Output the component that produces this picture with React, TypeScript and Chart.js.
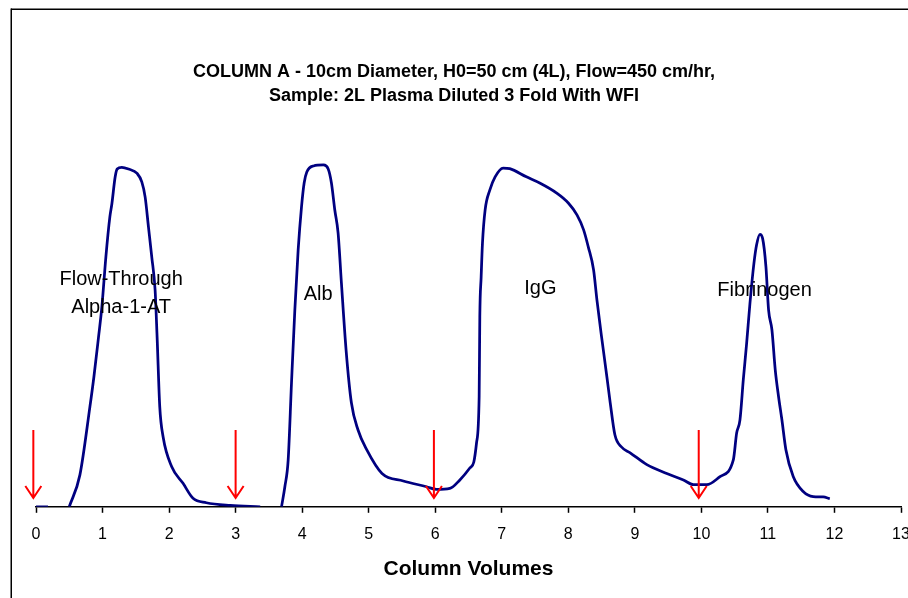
import React, { useEffect, useRef } from "react";
import { Chart, registerables } from "chart.js";

Chart.register(...registerables);

const FONT = "'Liberation Sans', Arial, Helvetica, sans-serif";

const TITLE_LINES = [
  "COLUMN A - 10cm Diameter, H0=50 cm (4L), Flow=450 cm/hr,",
  "Sample: 2L Plasma Diluted 3 Fold With WFI",
];
const X_TITLE = "Column Volumes";
const X_TICKS = [0, 1, 2, 3, 4, 5, 6, 7, 8, 9, 10, 11, 12, 13];

// column volumes
const CV = [
  0, 0.18, 0.3, 0.5, 0.66, 0.81, 0.87, 0.94, 0.99, 1.05, 1.11, 1.14, 1.19, 1.22, 1.29, 1.39,
  1.52, 1.59, 1.64, 1.69, 1.74, 1.79, 1.82, 1.86, 1.91, 2.04, 2.21, 2.36, 2.56, 2.92, 3.37,
  3.5, 3.69, 3.74, 3.79, 3.84, 3.89, 3.94, 3.99, 4.03, 4.07, 4.17, 4.32, 4.39, 4.44, 4.49,
  4.54, 4.59, 4.66, 4.74, 4.84, 4.97, 5.2, 5.52, 5.87, 6.02, 6.22, 6.37, 6.52, 6.58, 6.62,
  6.66, 6.67, 6.69, 6.71, 6.75, 6.82, 6.9, 7.02, 7.12, 7.37, 7.57, 7.82, 8.0, 8.13, 8.23,
  8.3, 8.38, 8.43, 8.5, 8.58, 8.63, 8.7, 8.8, 8.93, 9.18, 9.48, 9.73, 9.88, 10.08, 10.28,
  10.48, 10.53, 10.58, 10.63, 10.68, 10.73, 10.79, 10.83, 10.88, 10.92, 10.97, 11.01, 11.06,
  11.11, 11.16, 11.21, 11.27, 11.38, 11.53, 11.68, 11.83, 11.93,
];

// UV absorbance (arbitrary units)
const ABS: (number | null)[] = [
  0, 0, null, 0, 9.4, 29.4, 38.2, 50, 58.8, 73.5, 85.3, 89.1, 97.1, 99.4, 99.9, 99.4,
  98.1, 95.6, 91.2, 82.4, 73.5, 63.8, 50, 29.4, 20.6, 11.8, 6.9, 2.5, 1.2, 0.4, 0,
  null, 0, 5.9, 13.8, 36.5, 57.9, 75.6, 88.2, 95.3, 98.5, 100.3, 100.6, 99.5, 95.3, 87.4,
  80.6, 65.9, 46.2, 30.6, 22.6, 16.8, 9.8, 7.6, 5.9, 5.1, 5.4, 7.9, 11.4, 13.2, 18.7,
  32.4, 55.9, 67.6, 77.6, 87.4, 93.2, 97.1, 99.7, 99.5, 97.1, 95.3, 92.4, 89.4, 85.9, 81.5,
  76.5, 69.7, 60.9, 50, 38.2, 30.6, 21.2, 17.6, 15.9, 12.4, 9.8, 7.9, 6.5, 6.5, 8.9,
  13.8, 21.7, 25.6, 37.4, 48.1, 59.9, 71.7, 77.1, 80.2, 79.0, 70.7, 57.9, 52.1,
  40.3, 32.4, 25.6, 16.8, 8.9, 4.5, 3.0, 2.9, 2.4,
];

// injection / step-change markers (column volumes)
const ARROW_CV = [-0.04, 3.0, 5.98, 9.96];
const ARROW_FROM = 22.6;
const ARROW_TO = 2.6;

// peak labels
const PEAK_TEXT = [["Flow-Through", "Alpha-1-AT"], ["Alb"], ["IgG"], ["Fibrinogen"]];
const PEAK_CV = [1.28, 4.24, 7.58, 10.95];
const PEAK_ABS = [66.8, 62.6, 64.1, 63.6];

const framePlugin = {
  id: "frame",
  beforeDraw(chart: any) {
    const ctx = chart.ctx;
    ctx.save();
    ctx.fillStyle = "#ffffff";
    ctx.fillRect(0, 0, chart.width, chart.height);
    ctx.fillStyle = "#000000";
    ctx.fillRect(11, 8.5, chart.width - 11, 1.5);
    ctx.fillRect(10.5, 8.5, 1.5, chart.height - 8.5);
    ctx.restore();
  },
};

const titlePlugin = {
  id: "twoLineTitle",
  afterDraw(chart: any) {
    const ctx = chart.ctx;
    ctx.save();
    ctx.fillStyle = "#000000";
    ctx.font = `bold 18px ${FONT}`;
    ctx.textAlign = "center";
    ctx.textBaseline = "middle";
    TITLE_LINES.forEach((line, i) => {
      ctx.fillText(line, chart.width / 2, 72 + i * 24);
    });
    ctx.restore();
  },
};

const markerPlugin = {
  id: "markers",
  afterDatasetsDraw(chart: any) {
    const ctx = chart.ctx;
    const xs = chart.scales.x;
    const ys = chart.scales.y;
    ctx.save();
    ctx.strokeStyle = "#ff0000";
    ctx.lineWidth = 2;
    ARROW_CV.forEach((v) => {
      const px = xs.getPixelForValue(v);
      const y1 = ys.getPixelForValue(ARROW_FROM);
      const y2 = ys.getPixelForValue(ARROW_TO);
      ctx.beginPath();
      ctx.moveTo(px, y1);
      ctx.lineTo(px, y2);
      ctx.moveTo(px - 8, y2 - 12);
      ctx.lineTo(px, y2);
      ctx.lineTo(px + 8, y2 - 12);
      ctx.stroke();
    });
    ctx.fillStyle = "#000000";
    ctx.font = `20px ${FONT}`;
    ctx.textAlign = "center";
    ctx.textBaseline = "middle";
    PEAK_TEXT.forEach((lines, i) => {
      const px = xs.getPixelForValue(PEAK_CV[i]);
      const py = ys.getPixelForValue(PEAK_ABS[i]);
      lines.forEach((t, j) => ctx.fillText(t, px, py + j * 28));
    });
    ctx.restore();
  },
};

export default function App() {
  const ref = useRef<HTMLCanvasElement | null>(null);

  useEffect(() => {
    if (!ref.current) return;
    const chart = new Chart(ref.current, {
      type: "line",
      data: {
        datasets: [
          {
            label: "A280",
            data: CV.map((x, i) => ({ x, y: ABS[i] })) as any,
            borderColor: "#000080",
            borderWidth: 2.75,
            pointRadius: 0,
            fill: false,
            spanGaps: false,
            cubicInterpolationMode: "monotone",
          },
        ],
      },
      options: {
        animation: false,
        responsive: false,
        devicePixelRatio: 1,
        layout: { padding: { left: 36, right: 7, top: 133, bottom: 18 } },
        plugins: {
          legend: { display: false },
          title: { display: false },
          tooltip: { enabled: false },
        },
        scales: {
          x: {
            type: "linear",
            min: 0,
            max: 13,
            afterBuildTicks: (s: any) => {
              s.ticks = X_TICKS.map((v) => ({ value: v }));
            },
            afterFit: (s: any) => {
              s.paddingLeft = 0;
              s.paddingRight = 0;
            },
            ticks: {
              color: "#000000",
              font: { family: FONT, size: 16 },
              padding: 12,
              autoSkip: false,
              maxRotation: 0,
            },
            grid: {
              display: true,
              drawOnChartArea: false,
              drawTicks: true,
              tickLength: 6,
              tickColor: "#000000",
              tickWidth: 1.5,
            },
            border: { display: true, color: "#000000", width: 1.5 },
            title: {
              display: true,
              text: X_TITLE,
              color: "#000000",
              font: { family: FONT, size: 21, weight: "bold", lineHeight: 1 },
              padding: { top: 3, bottom: 0 },
            },
          },
          y: {
            type: "linear",
            display: false,
            min: 0,
            max: 110,
          },
        },
      },
      plugins: [framePlugin, titlePlugin, markerPlugin],
    });
    return () => chart.destroy();
  }, []);

  return (
    <div style={{ position: "absolute", left: 0, top: 0, width: 908, height: 598 }}>
      <canvas ref={ref} width={908} height={598} style={{ display: "block" }} />
    </div>
  );
}
